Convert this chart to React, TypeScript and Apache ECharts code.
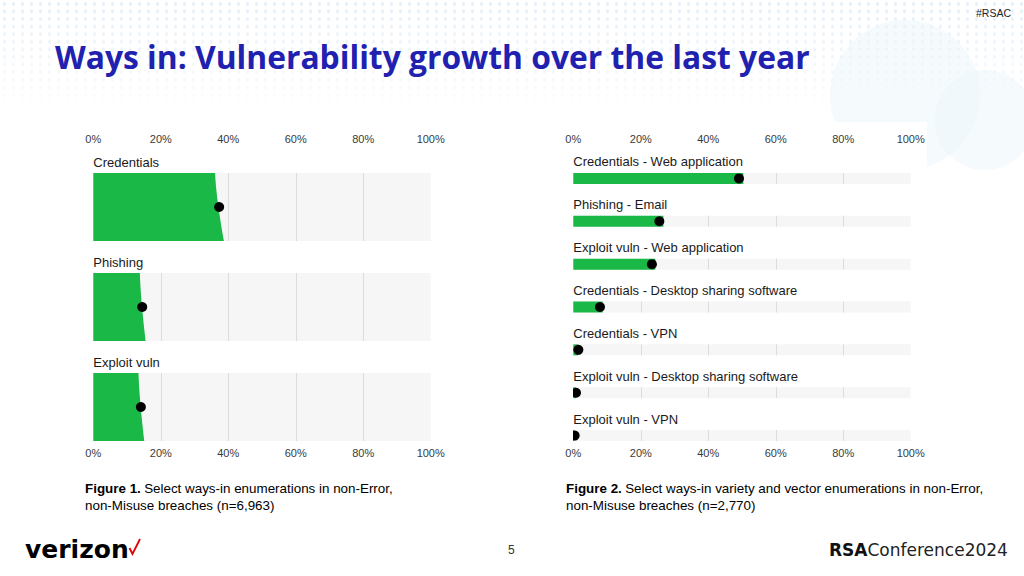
import React, { useEffect, useRef } from "react";
import * as echarts from "echarts";

// ---------- data ----------
const gridTicks = [20, 40, 60, 80];

const leftCategories = ["Credentials", "Phishing", "Exploit vuln"];
const leftPoint = [37.3, 14.5, 14.1];
const leftLow = [36.1, 13.8, 13.4];
const leftHigh = [38.7, 15.5, 15.1];

const rightCategories = [
  "Credentials - Web application",
  "Phishing - Email",
  "Exploit vuln - Web application",
  "Credentials - Desktop sharing software",
  "Credentials - VPN",
  "Exploit vuln - Desktop sharing software",
  "Exploit vuln - VPN",
];
const rightPoint = [49.1, 25.5, 23.3, 7.9, 1.5, 0.8, 0.4];
const rightBarEnd = [50.4, 26.7, 24.3, 8.7, 1.4, 0.7, 0.3];

const GREEN = "#19b847";
const LABEL_FONT = "Liberation Sans";

function makeRender(labels: string[], ratio: number, curved: boolean) {
  return (params: any, api: any) => {
    const lo = api.value(0);
    const idx = api.value(1);
    const hi = api.value(2);
    const band = api.size([0, 1])[1];
    const h = band * ratio;
    const c0 = api.coord([0, idx]);
    const x0 = c0[0];
    const cy = c0[1];
    const x100 = api.coord([100, idx])[0];
    const top = cy - h / 2;
    const bottom = cy + h / 2;
    const children: any[] = [];
    children.push({
      type: "rect",
      shape: { x: x0, y: top, width: x100 - x0, height: h },
      style: { fill: "#f6f6f6" },
    });
    gridTicks.forEach((t) => {
      const gx = Math.round(api.coord([t, idx])[0]) + 0.5;
      children.push({
        type: "line",
        shape: { x1: gx, y1: top, x2: gx, y2: bottom },
        style: { stroke: "#dcdcdc", lineWidth: 1 },
      });
    });
    const pts: number[][] = [[x0, top]];
    const steps = curved ? 10 : 1;
    for (let k = 0; k <= steps; k++) {
      const t = k / steps;
      const v = lo + (hi - lo) * Math.pow(t, 1.4);
      pts.push([api.coord([v, idx])[0], top + h * t]);
    }
    pts.push([x0, bottom]);
    children.push({ type: "polygon", shape: { points: pts }, style: { fill: GREEN } });
    children.push({
      type: "text",
      style: {
        text: labels[params.dataIndex],
        x: x0,
        y: top - 11,
        fill: "#1a1a1a",
        fontSize: 13,
        fontFamily: LABEL_FONT,
        align: "left",
        verticalAlign: "middle",
      },
    });
    return { type: "group", children };
  };
}

function renderDot(params: any, api: any) {
  const c = api.coord([api.value(0), api.value(1)]);
  return {
    type: "circle",
    shape: { cx: c[0], cy: c[1], r: 5 },
    style: { fill: "#000" },
  };
}

function xAxis(gridIndex: number, position: "top" | "bottom", margin: number) {
  return {
    type: "value",
    gridIndex,
    position,
    min: 0,
    max: 100,
    interval: 20,
    axisLine: { show: false },
    axisTick: { show: false },
    splitLine: { show: false },
    axisLabel: {
      formatter: "{value}%",
      margin,
      color: "#3a3a3a",
      fontSize: 11,
      fontFamily: LABEL_FONT,
    },
  };
}

export default function App() {
  const ref = useRef<HTMLDivElement>(null);
  useEffect(() => {
    if (!ref.current) return;
    const chart = echarts.init(ref.current, undefined, { renderer: "svg" });
    const captionRich = {
      b: { fontFamily: "Liberation Sans", fontSize: 13.4, fontWeight: "bold", fill: "#000", lineHeight: 17 },
      n: { fontFamily: "Liberation Sans", fontSize: 13.4, fill: "#000", lineHeight: 17 },
    };
    const option: any = {
      animation: false,
      backgroundColor: "transparent",
      grid: [
        { left: 93.3, top: 157, width: 337.4, height: 300 },
        { left: 573.3, top: 157, width: 337.4, height: 300 },
      ],
      xAxis: [xAxis(0, "top", 13), xAxis(0, "bottom", -10), xAxis(1, "top", 13), xAxis(1, "bottom", -10)],
      yAxis: [
        { type: "category", gridIndex: 0, inverse: true, data: leftCategories, show: false },
        { type: "category", gridIndex: 1, inverse: true, data: rightCategories, show: false },
      ],
      series: [
        {
          type: "custom",
          xAxisIndex: 0,
          yAxisIndex: 0,
          encode: { x: 0, y: 1 },
          data: leftCategories.map((_, i) => [leftLow[i], i, leftHigh[i]]),
          renderItem: makeRender(leftCategories, 0.68, true),
          z: 2,
        },
        {
          type: "custom",
          xAxisIndex: 0,
          yAxisIndex: 0,
          encode: { x: 0, y: 1 },
          data: leftPoint.map((v, i) => [v, i]),
          renderItem: renderDot,
          clip: true,
          z: 5,
        },
        {
          type: "custom",
          xAxisIndex: 2,
          yAxisIndex: 1,
          encode: { x: 0, y: 1 },
          data: rightCategories.map((_, i) => [rightBarEnd[i], i, rightBarEnd[i]]),
          renderItem: makeRender(rightCategories, 11 / (300 / 7), false),
          z: 2,
        },
        {
          type: "custom",
          xAxisIndex: 2,
          yAxisIndex: 1,
          encode: { x: 0, y: 1 },
          data: rightPoint.map((v, i) => [v, i]),
          renderItem: renderDot,
          clip: true,
          z: 5,
        },
      ],
      graphic: [
        {
          type: "text",
          left: 55,
          top: 40,
          style: {
            text: "Ways in: Vulnerability growth over the last year",
            fill: "#2121b0",
            fontFamily: "Open Sans",
            fontWeight: "bold",
            fontSize: 31.8,
          },
        },
        {
          type: "text",
          left: 976,
          top: 7,
          style: { text: "#RSAC", fill: "#222", fontFamily: "Liberation Sans", fontSize: 10.5 },
        },
        {
          type: "text",
          left: 85,
          top: 482,
          style: {
            text: "{b|Figure 1.} {n|Select ways-in enumerations in non-Error,}\n{n|non-Misuse breaches (n=6,963)}",
            rich: captionRich,
          },
        },
        {
          type: "text",
          left: 566,
          top: 482,
          style: {
            text: "{b|Figure 2.} {n|Select ways-in variety and vector enumerations in non-Error,}\n{n|non-Misuse breaches (n=2,770)}",
            rich: captionRich,
          },
        },
        {
          type: "text",
          left: 25,
          top: 537,
          style: { text: "verizon", fill: "#000", fontFamily: "DejaVu Sans", fontWeight: "bold", fontSize: 25 },
        },
        {
          type: "polyline",
          shape: { points: [[129.5, 548], [132.5, 554], [140, 539]] },
          style: { stroke: "#e00000", lineWidth: 1.8, fill: null },
        },
        {
          type: "text",
          left: 508,
          top: 544,
          style: { text: "5", fill: "#333", fontFamily: "Liberation Sans", fontSize: 12 },
        },
        {
          type: "text",
          left: 829,
          top: 541,
          style: {
            text: "{b|RSA}{n|Conference2024}",
            rich: {
              b: { fontFamily: "DejaVu Sans", fontWeight: "bold", fontSize: 17, fill: "#111" },
              n: { fontFamily: "DejaVu Sans", fontSize: 17, fill: "#222" },
            },
          },
        },
      ],
    };
    chart.setOption(option);
    return () => chart.dispose();
  }, []);

  return (
    <div style={{ position: "fixed", left: 0, top: 0, width: 1024, height: 576, background: "#fff", overflow: "hidden" }}>
      <div
        style={{
          position: "absolute",
          left: 0,
          top: 0,
          width: 1024,
          height: 118,
          backgroundImage: "radial-gradient(circle, #e4eff8 1.5px, rgba(255,255,255,0) 2px)",
          backgroundSize: "9px 7.6px",
          WebkitMaskImage: "linear-gradient(to bottom, rgba(0,0,0,1) 0%, rgba(0,0,0,0.55) 45%, rgba(0,0,0,0) 100%)",
          maskImage: "linear-gradient(to bottom, rgba(0,0,0,1) 0%, rgba(0,0,0,0.55) 45%, rgba(0,0,0,0) 100%)",
        }}
      />
      <div style={{ position: "absolute", left: 830, top: 20, width: 150, height: 150, borderRadius: "50%", background: "rgba(236,246,252,0.5)" }} />
      <div style={{ position: "absolute", left: 935, top: 70, width: 100, height: 100, borderRadius: "50%", background: "rgba(236,246,252,0.5)" }} />
      <div style={{ position: "absolute", left: 60, top: 122, width: 400, height: 346, background: "#fff" }} />
      <div style={{ position: "absolute", left: 545, top: 122, width: 382, height: 346, background: "#fff" }} />
      <div ref={ref} style={{ position: "absolute", left: 0, top: 0, width: 1024, height: 576 }} />
    </div>
  );
}
